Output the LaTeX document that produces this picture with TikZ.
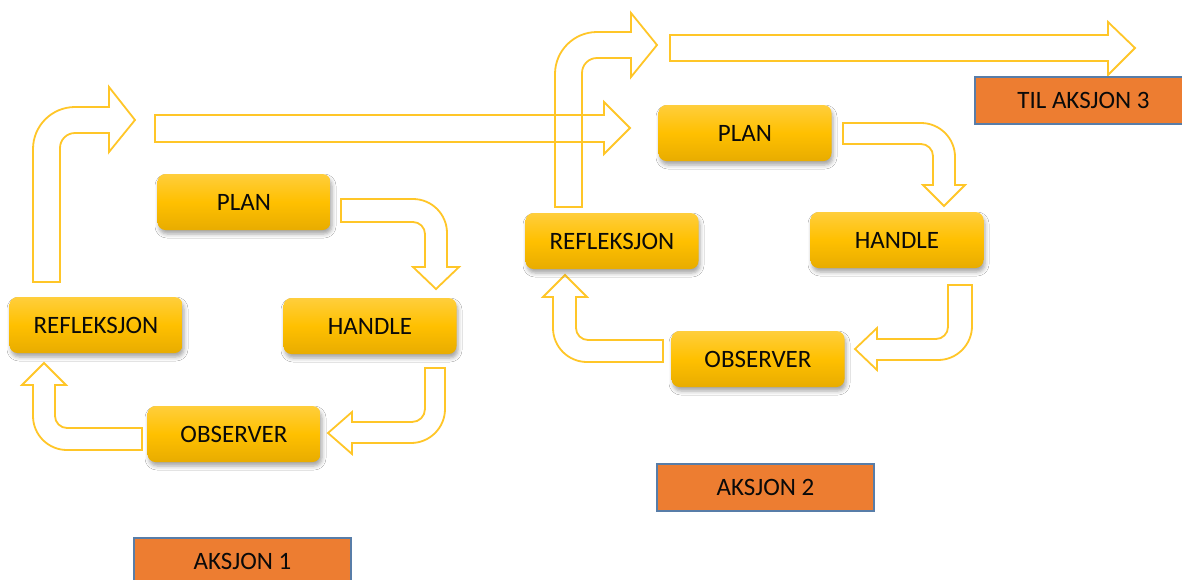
\documentclass[tikz,border=0pt]{standalone}
\usepackage{fontspec}
\setmainfont{Carlito}
\usetikzlibrary{shadows.blur}
\definecolor{arrowc}{RGB}{255,198,40}
\definecolor{ytop}{RGB}{255,206,60}
\definecolor{ymid}{RGB}{255,192,0}
\definecolor{ybot}{RGB}{232,172,0}
\definecolor{orangec}{RGB}{237,125,49}
\definecolor{bluec}{RGB}{88,125,168}
\definecolor{txt}{RGB}{10,10,10}
\tikzset{
  ybox/.style={rounded corners=8pt, minimum width=173pt, minimum height=56pt,
    inner sep=0pt, top color=ytop, bottom color=ybot, middle color=ymid,
    blur shadow={shadow xshift=1.5pt, shadow yshift=-4pt, shadow opacity=35, shadow blur radius=4pt},
    font=\fontsize{25}{29}\selectfont, text=txt},
  obox/.style={fill=orangec, draw=bluec, line width=1.3pt, minimum width=217pt,
    minimum height=47pt, inner sep=0pt, font=\fontsize{25}{29}\selectfont, text=txt},
  blk/.style={draw=arrowc, line width=1.8pt, line join=miter}
}
\begin{document}
\begin{tikzpicture}[x=1pt,y=-1pt]
\useasboundingbox (0,0) rectangle (1182,579);
\clip (0,0) rectangle (1182,579);
\fill[white] (0,0) rectangle (1182,579);

% ---------- block arrows, group 1 ----------
\draw[blk] (33,282) -- (33,149) .. controls (33,125.8) and (51.8,107) .. (75,107)
  -- (109,107) -- (109,87) -- (135,120) -- (109,152) -- (109,133) -- (75,133)
  .. controls (66.7,133) and (60,139.7) .. (60,148) -- (60,282) -- cycle;
\draw[blk] (155,115) -- (604,115) -- (604,102) -- (630,128) -- (604,154) -- (604,142) -- (155,142) -- cycle;
\draw[blk] (341,199) -- (413,199) .. controls (431.8,199) and (447,214.2) .. (447,233)
  -- (447,267) -- (459,267) -- (436,289) -- (413,267) -- (425,267) -- (425,234)
  .. controls (425,227.4) and (419.6,222) .. (413,222) -- (341,222) -- cycle;
\draw[blk] (425,368) -- (445,368) -- (445,409) .. controls (445,427.8) and (429.8,443) .. (411,443)
  -- (352,443) -- (352,454) -- (328,433) -- (352,412) -- (352,422) -- (412,422)
  .. controls (419.2,422) and (425,416.2) .. (425,409) -- cycle;
\draw[blk] (142,428) -- (142,450) -- (67,450) .. controls (48.2,450) and (33,434.8) .. (33,416)
  -- (33,385) -- (22,385) -- (44,363) -- (66,385) -- (55,385) -- (55,416)
  .. controls (55,422.6) and (60.4,428) .. (67,428) -- cycle;

% ---------- block arrows, group 2 ----------
\draw[blk] (555,207) -- (555,74) .. controls (555,50.8) and (573.8,32) .. (597,32)
  -- (631,32) -- (631,13) -- (657,45) -- (631,77) -- (631,58) -- (597,58)
  .. controls (588.7,58) and (582,64.7) .. (582,73) -- (582,207) -- cycle;
\draw[blk] (670,35) -- (1108,35) -- (1108,22) -- (1135,48) -- (1108,75) -- (1108,61) -- (670,61) -- cycle;
\draw[blk] (843,123) -- (921,123) .. controls (939.8,123) and (955,138.2) .. (955,157)
  -- (955,185) -- (965,185) -- (944,206) -- (923,185) -- (933,185) -- (933,156)
  .. controls (933,149.4) and (927.6,144) .. (921,144) -- (843,144) -- cycle;
\draw[blk] (948,285) -- (972,285) -- (972,326) .. controls (972,344.8) and (956.8,360) .. (938,360)
  -- (877,360) -- (877,370) -- (855,349) -- (877,328) -- (877,339) -- (936,339)
  .. controls (942.6,339) and (948,333.6) .. (948,327) -- cycle;
\draw[blk] (663,340) -- (663,362) -- (587,362) .. controls (568.2,362) and (553,346.8) .. (553,328)
  -- (553,297) -- (543,297) -- (565,275) -- (587,297) -- (576,297) -- (576,328)
  .. controls (576,334.6) and (581.4,340) .. (588,340) -- cycle;

% ---------- boxes ----------
\node[ybox] (p1) at (244,202) {PLAN};
\node[ybox] (r1) at (96,325) {REFLEKSJON};
\node[ybox] (h1) at (370,326) {HANDLE};
\node[ybox] (o1) at (234,434) {OBSERVER};

\node[ybox] (p2) at (745,133) {PLAN};
\node[ybox] (r2) at (612,241) {REFLEKSJON};
\node[ybox] (h2) at (897,240) {HANDLE};
\node[ybox] (o2) at (758,359) {OBSERVER};

\node[obox] (a1) at (242.5,561.5) {AKSJON 1};
\node[obox] (a2) at (765.5,487.5) {AKSJON 2};
\node[obox] (a3) at (1083.5,100.5) {TIL AKSJON 3};
\end{tikzpicture}
\end{document}
